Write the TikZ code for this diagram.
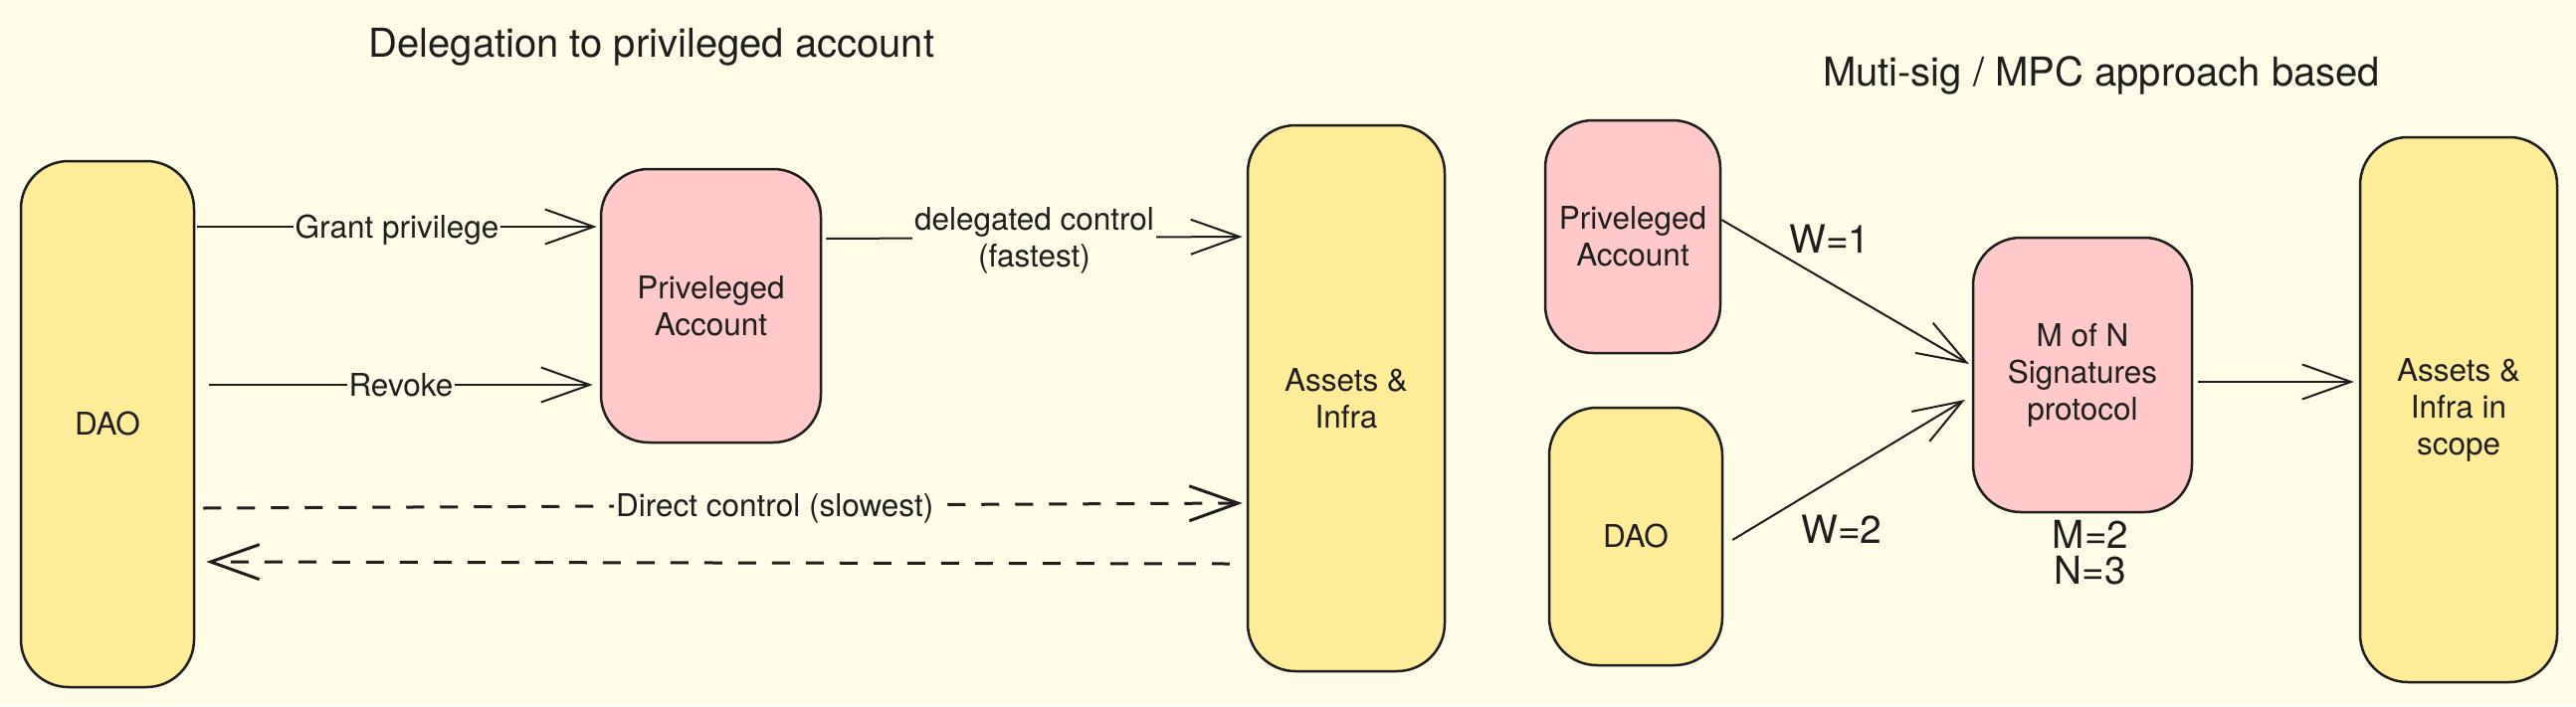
\documentclass[tikz,border=0pt]{standalone}
\usepackage{fontspec}
\setmainfont{TeX Gyre Heros}
\usetikzlibrary{arrows.meta}
\definecolor{bgc}{HTML}{FFFDE8}
\definecolor{ylw}{HTML}{FFEC99}
\definecolor{pnk}{HTML}{FFC9C9}
\definecolor{ink}{HTML}{1E1E1E}
\newcommand\mynodefont{\fontsize{31.5}{37}\selectfont}
\begin{document}
\begin{tikzpicture}[x=1pt,y=-1pt,
  box/.style={draw=ink, line width=2.5pt, rounded corners=48pt, align=center, font=\mynodefont, text=ink, inner sep=0pt},
  ybox/.style={box, fill=ylw},
  pbox/.style={box, fill=pnk},
  conn/.style={draw=ink, line width=2pt, -{Straight Barb[length=49pt,width=35pt]}},
  dsh/.style={conn, line width=3pt, dash pattern=on 18pt off 16pt},
  lbl/.style={fill=bgc, font=\mynodefont, text=ink, inner xsep=2pt, inner ysep=1pt, align=center},
  ttl/.style={font=\fontsize{40}{48}\selectfont, text=ink, anchor=base, inner sep=0pt},
  wlbl/.style={font=\fontsize{39}{40}\selectfont, text=ink, anchor=base, inner sep=0pt}]
\fill[bgc] (0,0) rectangle (2589,710);
\useasboundingbox (0,0) rectangle (2589,710);

% titles
\node[ttl] (t1) at (655,57) {Delegation to privileged account};
\node[ttl] (t2) at (2112,86) {Muti-sig / MPC approach based};

% left diagram
\node[ybox, minimum width=174pt, minimum height=529pt] (dao1) at (108,426.5) {DAO};
\node[pbox, minimum width=221pt, minimum height=275pt] (pa1) at (714.5,307.5) {Priveleged\\Account};
\node[ybox, minimum width=198pt, minimum height=549pt] (ai) at (1353,400.5) {Assets \&\\Infra};

\draw[conn] ([xshift=2pt,yshift=198.5pt]dao1.east) -- node[lbl, yshift=-3pt] {Grant privilege} ([xshift=-3pt,yshift=79.5pt]pa1.west);
\draw[conn] ([xshift=14pt,yshift=39.5pt]dao1.east) -- node[lbl] {Revoke} ([xshift=-7pt,yshift=-79.5pt]pa1.west);
\draw[conn] ([xshift=4pt,yshift=67.5pt]pa1.east) -- node[lbl, yshift=-3pt] {delegated control\\(fastest)} ([xshift=-4pt,yshift=162.5pt]ai.west);
\draw[dsh] ([xshift=8pt,yshift=-84.5pt]dao1.east) -- node[lbl, pos=0.55, yshift=-3pt] {Direct control (slowest)} ([xshift=-4pt,yshift=-105.5pt]ai.west);
\draw[dsh] ([xshift=-17pt,yshift=-166.5pt]ai.west) -- ([xshift=11pt,yshift=-138.5pt]dao1.east);

% right diagram
\node[pbox, minimum width=176pt, minimum height=234pt] (pa2) at (1641,238) {Priveleged\\Account};
\node[ybox, minimum width=174pt, minimum height=259pt] (dao2) at (1644,539.5) {DAO};
\node[pbox, minimum width=220pt, minimum height=276pt] (mn) at (2093,377) {M of N\\Signatures\\protocol};
\node[ybox, minimum width=198pt, minimum height=548pt] (ais) at (2471,412) {Assets \&\\Infra in\\scope};

\draw[conn] ([yshift=17pt]pa2.east) -- ([xshift=-3pt,yshift=11pt]mn.west);
\draw[conn] ([xshift=9pt,yshift=-3.5pt]dao2.east) -- ([xshift=-7pt,yshift=-25pt]mn.west);
\draw[conn] ([xshift=5pt,yshift=-7pt]mn.east) -- ([xshift=-5pt,yshift=28pt]ais.west);

\node[wlbl] (w1) at (1839,254) {W=1};
\node[wlbl] (w2) at (1851,546) {W=2};
\node[font=\fontsize{38.7}{36}\selectfont, text=ink, align=center, inner sep=0pt] (mnval) at (2101,556) {M=2\\N=3};
\end{tikzpicture}
\end{document}
